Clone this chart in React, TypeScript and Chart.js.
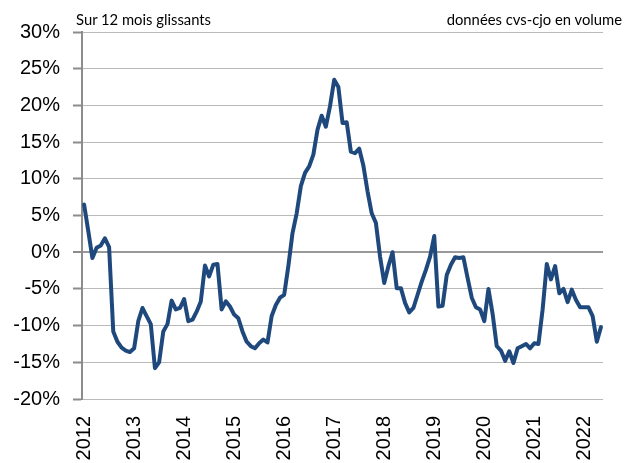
import React, { useEffect, useRef } from 'react';
import { Chart, registerables } from 'chart.js';

Chart.register(...registerables);

// Monthly year-on-year change (%), rolling 12 months, Jan 2012 – May 2022
const v2012 = [6.5, 2.9, -0.8, 0.6, 0.9, 1.9, 0.7, -10.8, -12.2, -13.0, -13.4, -13.6];
const v2013 = [-13.1, -9.4, -7.6, -8.7, -9.8, -15.8, -15.0, -10.8, -9.8, -6.6, -7.8, -7.6];
const v2014 = [-6.4, -9.4, -9.2, -8.1, -6.7, -1.8, -3.3, -1.7, -1.6, -7.8, -6.7, -7.4];
const v2015 = [-8.5, -9.0, -10.8, -12.2, -12.8, -13.1, -12.4, -11.9, -12.3, -8.7, -7.2, -6.2];
const v2016 = [-5.8, -1.9, 2.6, 5.3, 9.0, 10.8, 11.7, 13.3, 16.7, 18.6, 17.1, 19.9];
const v2017 = [23.5, 22.5, 17.6, 17.7, 13.7, 13.5, 14.1, 11.8, 8.3, 5.3, 4.0, -0.6];
const v2018 = [-4.2, -1.9, 0.0, -4.9, -4.9, -6.9, -8.2, -7.6, -5.8, -4.0, -2.4, -0.6];
const v2019 = [2.2, -7.4, -7.3, -3.1, -1.7, -0.7, -0.8, -0.7, -3.5, -6.2, -7.5, -7.8];
const v2020 = [-9.4, -5.0, -8.4, -12.8, -13.4, -14.8, -13.5, -15.1, -13.1, -12.8, -12.5, -13.1];
const v2021 = [-12.4, -12.5, -7.8, -1.6, -3.7, -1.9, -5.6, -5.0, -6.8, -5.1, -6.5, -7.5];
const v2022 = [-7.5, -7.5, -8.7, -12.2, -10.2];

const years = ['2012', '2013', '2014', '2015', '2016', '2017', '2018', '2019', '2020', '2021', '2022'];
const yearSeries = [v2012, v2013, v2014, v2015, v2016, v2017, v2018, v2019, v2020, v2021, v2022];

const yMin = -20;
const yMax = 30;
const yStep = 5;

const titleLeft = 'Sur 12 mois glissants';
const titleRight = 'données cvs-cjo en volume';

const values: number[] = [];
const categories: string[] = [];
yearSeries.forEach((arr, yi) => {
  arr.forEach((v, mi) => {
    values.push(v);
    categories.push(`${years[yi]}-${String(mi + 1).padStart(2, '0')}`);
  });
});

export default function App() {
  const ref = useRef<HTMLCanvasElement | null>(null);

  useEffect(() => {
    if (!ref.current) return;
    const chart = new Chart(ref.current, {
      type: 'line',
      data: {
        labels: categories,
        datasets: [
          {
            data: values,
            borderColor: '#1f497d',
            borderWidth: 4,
            pointRadius: 0,
            tension: 0,
            borderJoinStyle: 'round',
            borderCapStyle: 'round',
            fill: false,
          },
        ],
      },
      options: {
        responsive: false,
        animation: false,
        events: [],
        layout: { padding: { top: 32, right: 5, bottom: 0, left: 0 } },
        plugins: {
          legend: { display: false },
          tooltip: { enabled: false },
          title: { display: false },
        },
        scales: {
          x: {
            type: 'category',
            offset: true,
            grid: { display: false, drawTicks: false },
            border: { display: false },
            ticks: {
              autoSkip: false,
              minRotation: 90,
              maxRotation: 90,
              padding: 17,
              color: '#000',
              font: { family: '"Liberation Sans", Arial, sans-serif', size: 20 },
              callback: (_v: any, i: number) => {
                const c = categories[i];
                return c.endsWith('-01') ? c.slice(0, 4) : '';
              },
            },
            afterFit: (s: any) => {
              s.height = 64;
            },
          },
          y: {
            min: yMin,
            max: yMax,
            ticks: {
              stepSize: yStep,
              padding: 13,
              color: '#000',
              font: { family: '"Liberation Sans", Arial, sans-serif', size: 20 },
              callback: (v: any) => `${v}%`,
            },
            border: { display: true, color: '#8c8c8c', width: 2 },
            grid: {
              color: (ctx: any) => (ctx.tick && ctx.tick.value === 0 ? '#999999' : '#b9b9b9'),
              lineWidth: (ctx: any) => (ctx.tick && ctx.tick.value === 0 ? 2 : 1),
              borderDash: (ctx: any) => (ctx.tick && ctx.tick.value === 0 ? [] : [2, 2]),
              tickColor: '#8c8c8c',
              tickWidth: 2,
              tickLength: 9,
              tickBorderDash: [],
            } as any,
            afterFit: (s: any) => {
              s.width = 82;
            },
          },
        },
      } as any,
    });
    return () => chart.destroy();
  }, []);

  const textStyle: React.CSSProperties = {
    position: 'absolute',
    top: 11,
    fontFamily: 'Lato, "Noto Sans", sans-serif',
    fontSize: 14.8,
    lineHeight: '16px',
    color: '#000',
    whiteSpace: 'nowrap',
  };

  return (
    <div style={{ position: 'fixed', left: 0, top: 0, width: 642, height: 463, background: '#fff' }}>
      <canvas ref={ref} width={642} height={463} style={{ display: 'block', width: 642, height: 463 }} />
      <div style={{ ...textStyle, left: 76 }}>{titleLeft}</div>
      <div style={{ ...textStyle, right: 642 - 622, textAlign: 'right' }}>{titleRight}</div>
    </div>
  );
}
